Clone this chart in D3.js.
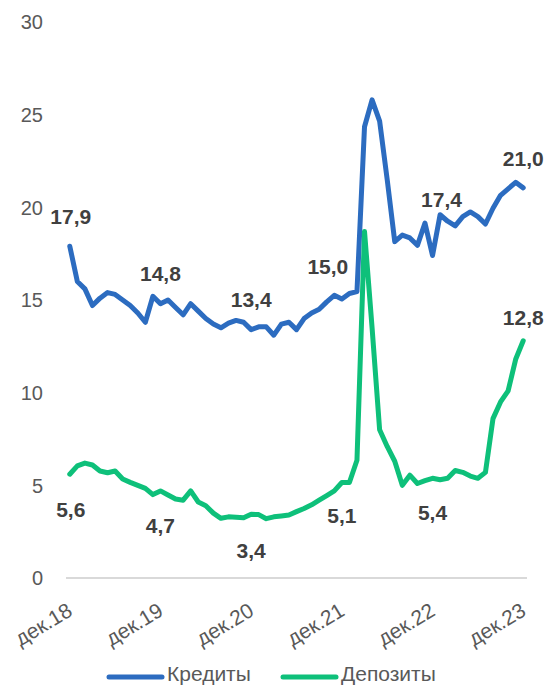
<!DOCTYPE html>
<html><head><meta charset="utf-8">
<script src="https://cdn.jsdelivr.net/npm/d3@7/dist/d3.min.js"></script>
<style>body{margin:0;background:#fff}svg{display:block}</style>
</head><body>
<svg id="c" width="549" height="687"></svg>
<script>
const categories = [
 "дек.18","янв.19","фев.19","мар.19","апр.19","май.19","июн.19","июл.19","авг.19","сен.19","окт.19","ноя.19",
 "дек.19","янв.20","фев.20","мар.20","апр.20","май.20","июн.20","июл.20","авг.20","сен.20","окт.20","ноя.20",
 "дек.20","янв.21","фев.21","мар.21","апр.21","май.21","июн.21","июл.21","авг.21","сен.21","окт.21","ноя.21",
 "дек.21","янв.22","фев.22","мар.22","апр.22","май.22","июн.22","июл.22","авг.22","сен.22","окт.22","ноя.22",
 "дек.22","янв.23","фев.23","мар.23","апр.23","май.23","июн.23","июл.23","авг.23","сен.23","окт.23","ноя.23",
 "дек.23"];
const credits = [17.9,16.0,15.6,14.7,15.1,15.4,15.3,15.0,14.7,14.3,13.8,15.2,
 14.8,15.0,14.6,14.2,14.8,14.4,14.0,13.7,13.5,13.75,13.9,13.8,
 13.4,13.55,13.55,13.1,13.7,13.8,13.4,14.0,14.3,14.5,14.9,15.25,
 15.05,15.35,15.45,24.35,25.8,24.65,21.5,18.15,18.5,18.35,17.95,19.15,
 17.4,19.6,19.25,19.0,19.5,19.75,19.5,19.1,19.95,20.65,21.0,21.35,
 21.05];
const deposits = [5.6,6.05,6.2,6.1,5.77,5.68,5.77,5.34,5.16,5.0,4.84,4.5,
 4.7,4.48,4.26,4.2,4.7,4.1,3.9,3.5,3.22,3.3,3.28,3.25,
 3.44,3.42,3.2,3.3,3.35,3.4,3.58,3.75,3.95,4.2,4.45,4.7,
 5.15,5.15,6.35,18.7,13.5,8.0,7.1,6.3,5.0,5.55,5.1,5.25,
 5.38,5.3,5.38,5.8,5.7,5.5,5.38,5.7,8.6,9.5,10.1,11.8,
 12.8];
const yTicks = [0,5,10,15,20,25,30];
const xTickLabels = ["дек.18","дек.19","дек.20","дек.21","дек.22","дек.23"];
const seriesNames = ["Кредиты","Депозиты"];
const creditLabels = [
 {i:0, text:"17,9"},{i:12, text:"14,8"},{i:24, text:"13,4"},{i:36, text:"15,0"},{i:48, text:"17,4"},{i:60, text:"21,0"}];
const depositLabels = [
 {i:0, text:"5,6"},{i:12, text:"4,7"},{i:24, text:"3,4"},{i:36, text:"5,1"},{i:48, text:"5,4"},{i:60, text:"12,8"}];

const colors = ["#2C6CC0","#0EC07A"];
const svg = d3.select("#c");
const font = "'Liberation Sans', Arial, sans-serif";

const x = d3.scalePoint().domain(categories).range([66,527]).padding(0.5);
const y = d3.scaleLinear().domain([0,30]).range([578,22]);

// y tick labels
svg.append("g").selectAll("text").data(yTicks).join("text")
  .attr("x",43).attr("y",d=>y(d)).attr("dy","0.36em")
  .attr("text-anchor","end").attr("font-family",font).attr("font-size",20)
  .attr("fill","#595959").text(d=>d);

// x axis line
svg.append("line").attr("x1",66).attr("x2",527).attr("y1",y(0)).attr("y2",y(0))
  .attr("stroke","#d9d9d9").attr("stroke-width",2);

// x tick labels
svg.append("g").selectAll("text").data(xTickLabels).join("text")
  .attr("transform",d=>`translate(${x(d)-4},${601}) rotate(-31)`)
  .attr("text-anchor","end").attr("dy","0.75em")
  .attr("font-family",font).attr("font-size",21).attr("fill","#595959").text(d=>d);

// lines
const line = d3.line().x((d,i)=>x(categories[i])).y(d=>y(d));
[credits,deposits].forEach((s,k)=>{
  svg.append("path").datum(s).attr("d",line).attr("fill","none")
    .attr("stroke",colors[k]).attr("stroke-width",5)
    .attr("stroke-linejoin","round").attr("stroke-linecap","round");
});

// data labels
const cOff = {0:[1,-30],12:[0,-30],24:[0,-30],36:[-14,-33],48:[9,-56],60:[0,-29]};
svg.append("g").selectAll("text").data(creditLabels).join("text")
  .attr("x",d=>x(categories[d.i])+cOff[d.i][0])
  .attr("y",d=>y(credits[d.i])+cOff[d.i][1]).attr("dy","0.36em")
  .attr("text-anchor","middle").attr("font-family",font).attr("font-weight","bold")
  .attr("font-size",21).attr("fill","#404040").text(d=>d.text);
const dOff = {0:[1,35],12:[0,35],24:[0,36],36:[0,33],48:[0,34],60:[0,-23]};
svg.append("g").selectAll("text").data(depositLabels).join("text")
  .attr("x",d=>x(categories[d.i])+dOff[d.i][0])
  .attr("y",d=>y(deposits[d.i])+dOff[d.i][1]).attr("dy","0.36em")
  .attr("text-anchor","middle").attr("font-family",font).attr("font-weight","bold")
  .attr("font-size",21).attr("fill","#404040").text(d=>d.text);

// legend
const lg = svg.append("g");
const legX = [109,283];
seriesNames.forEach((n,k)=>{
  lg.append("line").attr("x1",legX[k]).attr("x2",legX[k]+53).attr("y1",677).attr("y2",677)
    .attr("stroke",colors[k]).attr("stroke-width",5).attr("stroke-linecap","round");
  lg.append("text").attr("x",legX[k]+58).attr("y",681)
    .attr("font-family",font).attr("font-size",21).attr("fill","#595959").text(n);
});
</script>
</body></html>
